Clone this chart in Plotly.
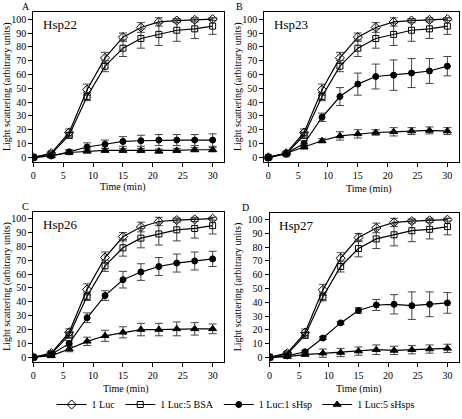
import plotly.graph_objects as go

time = [0, 3, 6, 9, 12, 15, 18, 21, 24, 27, 30]

luc = [0, 3, 18, 49, 72, 87, 94, 98, 99, 99.5, 100]
luc_err = [0, 1, 2.5, 4, 4, 3, 3.5, 3, 1.5, 1.5, 1]
bsa = [0, 2.5, 16, 44, 66, 79, 86, 89, 92, 93, 95]
bsa_err = [0, 1, 2, 3, 4, 6, 7, 8, 8, 7, 6]

panel_names = ["Hsp22", "Hsp23", "Hsp26", "Hsp27"]
panel_letters = ["A", "B", "C", "D"]

shsp1 = {
    "Hsp22": [0, 1, 4, 7.5, 9.5, 11.5, 12, 12.5, 12.5, 12.5, 12.5],
    "Hsp23": [0, 3, 10, 29, 44, 53, 58.5, 59.5, 61, 62.5, 66],
    "Hsp26": [0, 2, 10, 28.5, 44.5, 56, 61.5, 65.5, 68, 69.5, 71],
    "Hsp27": [0, 1, 4, 14, 25, 34, 38, 38.5, 37.5, 38.5, 39.5],
}
shsp1_err = {
    "Hsp22": [0, 0.5, 1.5, 3, 3, 3.5, 4, 4, 4, 4, 4.5],
    "Hsp23": [0, 1, 2, 3, 6.5, 8, 9, 11, 10.5, 9, 7],
    "Hsp26": [0, 1, 2, 3.5, 3.5, 6, 6, 6.5, 6.5, 6.5, 5.5],
    "Hsp27": [0, 0.5, 1, 1, 1, 2, 4, 7, 10, 9, 7.5],
}
shsp5 = {
    "Hsp22": [0, 1, 3.5, 4.5, 5, 5, 5, 4.5, 5, 5.5, 5.5],
    "Hsp23": [0, 3, 7.5, 12, 15.5, 17, 18, 18.5, 19, 19.5, 19],
    "Hsp26": [0, 1, 6, 11.5, 15.5, 18, 20, 20, 20.5, 20.5, 20.5],
    "Hsp27": [0, 0.5, 2, 3, 3.5, 4.5, 5.5, 5, 5.5, 6, 6.5],
}
shsp5_err = {
    "Hsp22": [0, 0.5, 1, 1.5, 1.5, 1.5, 1.5, 1.5, 1.5, 1.5, 1.5],
    "Hsp23": [0, 1, 1.5, 1.5, 3, 3, 2, 3, 2.5, 2.5, 2.5],
    "Hsp26": [0, 1, 2, 3, 4, 4, 4.5, 4.5, 5, 4.5, 3.5],
    "Hsp27": [0, 0.5, 1, 3, 3, 3, 3.5, 3, 3, 3, 3],
}

series_names = ["1 Luc", "1 Luc:5 BSA", "1 Luc:1 sHsp", "1 Luc:5 sHsps"]
symbols = ["diamond-open", "square-open", "circle", "triangle-up"]
msizes = [7, 6, 6, 7]

W, H = 462, 419
# pixel boxes (left, right, top, bottom), x range, y-title x, x-title (x, y)
boxes = [
    (33.3, 224.0, 12.3, 162.3, [0, 31.9], 7, (123, 187)),
    (264.3, 458.7, 12.3, 162.3, [-0.67, 31.9], 238, (368, 189)),
    (33.3, 224.0, 212.3, 362.7, [0, 31.9], 7, (125, 390)),
    (269.5, 458.7, 213.3, 362.7, [0, 31.9], 238, (358, 390)),
]

FONT = "Liberation Serif"
fig = go.Figure()
layout = {}
annotations = []

for i, name in enumerate(panel_names):
    l, r, t, b, xr, ytx, (xtx, xty) = boxes[i]
    ax = "" if i == 0 else str(i + 1)
    xa = "x" + ax
    ya = "y" + ax
    ys = [luc, bsa, shsp1[name], shsp5[name]]
    es = [luc_err, bsa_err, shsp1_err[name], shsp5_err[name]]
    for k in range(4):
        fig.add_trace(go.Scatter(
            x=time, y=ys[k], xaxis=xa, yaxis=ya,
            mode="lines+markers", name=series_names[k],
            showlegend=(i == 0), legendgroup=series_names[k],
            line=dict(color="black", width=1.2),
            marker=dict(symbol=symbols[k], size=msizes[k], color="black",
                        line=dict(color="black", width=1)),
            error_y=dict(type="data", array=es[k], visible=True,
                         color="#444", thickness=1, width=4),
        ))
    layout["xaxis" + ax] = dict(
        domain=[l / W, r / W], range=xr, anchor=ya, dtick=5, tick0=0,
        showline=True, linecolor="black", linewidth=1, mirror=True,
        ticks="outside", ticklen=4, tickcolor="black", showgrid=False, zeroline=False,
        tickfont=dict(family=FONT, size=10, color="black"), automargin=False,
    )
    layout["yaxis" + ax] = dict(
        domain=[1 - b / H, 1 - t / H], range=[-3.3, 105], anchor=xa, dtick=10, tick0=0,
        showline=True, linecolor="black", linewidth=1, mirror=True,
        ticks="outside", ticklen=4, tickcolor="black", showgrid=False, zeroline=False,
        tickfont=dict(family=FONT, size=10, color="black"), automargin=False,
    )
    annotations.append(dict(
        text="Light scattering (arbitrary units)", xref="paper", yref="paper",
        x=ytx / W, y=1 - ((t + b) / 2) / H, textangle=-90,
        xanchor="center", yanchor="middle", showarrow=False,
        font=dict(family=FONT, size=10, color="black"),
    ))
    annotations.append(dict(
        text="Time (min)", xref="paper", yref="paper",
        x=xtx / W, y=1 - xty / H,
        xanchor="center", yanchor="middle", showarrow=False,
        font=dict(family=FONT, size=10, color="black"),
    ))
    annotations.append(dict(
        text=name, xref=xa + " domain", yref=ya + " domain", x=0.04, y=0.98,
        xanchor="left", yanchor="top", showarrow=False,
        font=dict(family=FONT, size=13, color="black"),
    ))
    annotations.append(dict(
        text=panel_letters[i], xref="paper", yref="paper",
        x=(l - 13) / W if i % 2 == 0 else (l - 30) / W, y=1 - (t - 13) / H,
        xanchor="left", yanchor="top", showarrow=False,
        font=dict(family=FONT, size=10, color="black"),
    ))

fig.update_layout(
    width=W, height=H, margin=dict(l=0, r=0, t=0, b=0),
    paper_bgcolor="white", plot_bgcolor="white",
    annotations=annotations,
    legend=dict(orientation="h", x=0.51, xanchor="center", y=1 - 405 / H, yanchor="middle",
                font=dict(family=FONT, size=10, color="black"), itemwidth=30,
                bgcolor="rgba(0,0,0,0)", tracegroupgap=0),
    **layout,
)

fig.write_html(
    "out.html",
    config={"displayModeBar": False},
    post_script="document.body.style.margin='0';document.body.style.overflow='hidden';",
)
